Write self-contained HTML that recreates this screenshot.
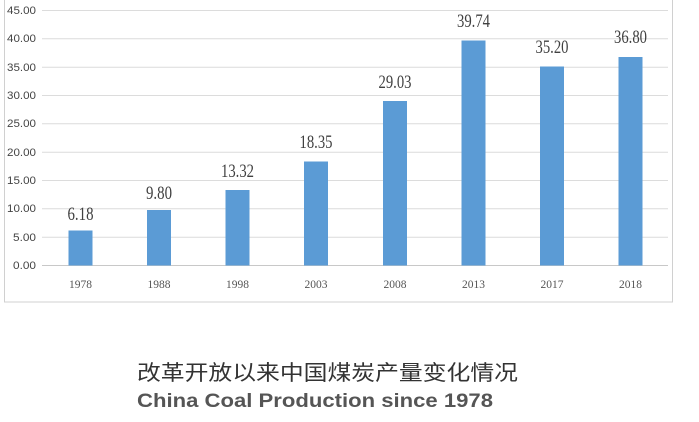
<!DOCTYPE html>
<html><head><meta charset="utf-8"><style>
body{margin:0;width:699px;height:422px;background:#fff;overflow:hidden;position:relative}
svg{position:absolute;left:0;top:0}
</style></head><body>
<svg width="699" height="422" viewBox="0 0 699 422">
<rect x="4.5" y="-5" width="668" height="307" fill="#fff" stroke="#d0d0d0"/>
<g stroke="#dcdcdc" stroke-width="1">
<line x1="42" x2="668" y1="10.5" y2="10.5"/>
<line x1="42" x2="668" y1="38.8" y2="38.8"/>
<line x1="42" x2="668" y1="67.2" y2="67.2"/>
<line x1="42" x2="668" y1="95.5" y2="95.5"/>
<line x1="42" x2="668" y1="123.8" y2="123.8"/>
<line x1="42" x2="668" y1="152.2" y2="152.2"/>
<line x1="42" x2="668" y1="180.5" y2="180.5"/>
<line x1="42" x2="668" y1="208.8" y2="208.8"/>
<line x1="42" x2="668" y1="237.2" y2="237.2"/>
<line x1="42" x2="668" y1="265.5" y2="265.5" stroke="#c8c8c8"/>
</g>
<g font-family="Liberation Sans, sans-serif" font-size="11" fill="#444" text-anchor="end">
<text x="36" y="14" textLength="29" lengthAdjust="spacingAndGlyphs">45.00</text><text x="36" y="42" textLength="29" lengthAdjust="spacingAndGlyphs">40.00</text><text x="36" y="71" textLength="29" lengthAdjust="spacingAndGlyphs">35.00</text><text x="36" y="99" textLength="29" lengthAdjust="spacingAndGlyphs">30.00</text><text x="36" y="127" textLength="29" lengthAdjust="spacingAndGlyphs">25.00</text><text x="36" y="156" textLength="29" lengthAdjust="spacingAndGlyphs">20.00</text><text x="36" y="184" textLength="29" lengthAdjust="spacingAndGlyphs">15.00</text><text x="36" y="212" textLength="29" lengthAdjust="spacingAndGlyphs">10.00</text><text x="36" y="241" textLength="23" lengthAdjust="spacingAndGlyphs">5.00</text><text x="36" y="269" textLength="23" lengthAdjust="spacingAndGlyphs">0.00</text>
</g>
<g fill="#5b9bd5">
<rect x="68.5" y="230.5" width="24" height="35"/>
<rect x="147" y="210" width="24" height="55.5"/>
<rect x="225.5" y="190" width="24" height="75.5"/>
<rect x="304" y="161.5" width="24" height="104"/>
<rect x="383" y="101" width="24" height="164.5"/>
<rect x="461.5" y="40.5" width="24" height="225"/>
<rect x="540" y="66.5" width="24" height="199"/>
<rect x="618.5" y="57" width="24" height="208.5"/>
</g>
<g font-family="Liberation Serif, serif" font-size="19" fill="#404040" text-anchor="middle">
<text x="80.5" y="220" textLength="26" lengthAdjust="spacingAndGlyphs">6.18</text>
<text x="159" y="199" textLength="26" lengthAdjust="spacingAndGlyphs">9.80</text>
<text x="237.5" y="177" textLength="33" lengthAdjust="spacingAndGlyphs">13.32</text>
<text x="316" y="148" textLength="33" lengthAdjust="spacingAndGlyphs">18.35</text>
<text x="395" y="88" textLength="33" lengthAdjust="spacingAndGlyphs">29.03</text>
<text x="473.5" y="27" textLength="33" lengthAdjust="spacingAndGlyphs">39.74</text>
<text x="552" y="53" textLength="33" lengthAdjust="spacingAndGlyphs">35.20</text>
<text x="630.5" y="43" textLength="33" lengthAdjust="spacingAndGlyphs">36.80</text>
</g>
<g font-family="Liberation Serif, serif" font-size="12" fill="#555" text-anchor="middle">
<text x="80.5" y="288" textLength="23" lengthAdjust="spacingAndGlyphs">1978</text><text x="159" y="288" textLength="23" lengthAdjust="spacingAndGlyphs">1988</text><text x="237.5" y="288" textLength="23" lengthAdjust="spacingAndGlyphs">1998</text><text x="316" y="288" textLength="23" lengthAdjust="spacingAndGlyphs">2003</text><text x="395" y="288" textLength="23" lengthAdjust="spacingAndGlyphs">2008</text><text x="473.5" y="288" textLength="23" lengthAdjust="spacingAndGlyphs">2013</text><text x="552" y="288" textLength="23" lengthAdjust="spacingAndGlyphs">2017</text><text x="630.5" y="288" textLength="23" lengthAdjust="spacingAndGlyphs">2018</text>
</g>
<text x="137" y="380" font-family="Liberation Sans, 'Noto Sans CJK SC', sans-serif" font-size="21" fill="#333" textLength="381" lengthAdjust="spacingAndGlyphs">改革开放以来中国煤炭产量变化情况</text>
<text x="137" y="407" font-family="Liberation Sans, sans-serif" font-size="19" font-weight="bold" fill="#555" textLength="356" lengthAdjust="spacingAndGlyphs">China Coal Production  since 1978</text>
</svg>
</body></html>
